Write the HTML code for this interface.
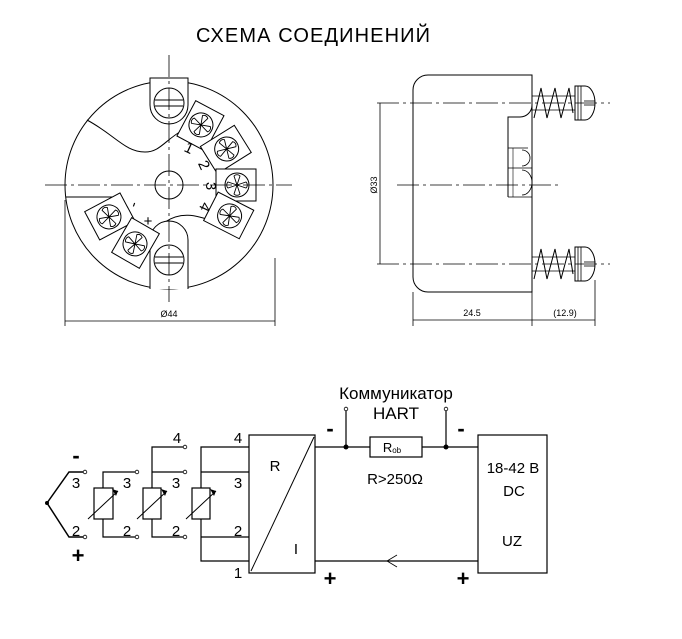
<!DOCTYPE html>
<html><head><meta charset="utf-8"><style>
html,body{margin:0;padding:0;background:#fff;}
svg{display:block;font-family:"Liberation Sans",sans-serif;}
</style></head><body>
<svg width="682" height="639" viewBox="0 0 682 639" xmlns="http://www.w3.org/2000/svg">
<defs>
<g id="fan">
 <circle r="12" fill="#fff" stroke="#000" stroke-width="1"/>
 <path d="M0,0 L-3,-9 A4,4 0 0 1 3,-9 Z M0,0 L9,-3 A4,4 0 0 1 9,3 Z M0,0 L3,9 A4,4 0 0 1 -3,9 Z M0,0 L-9,3 A4,4 0 0 1 -9,-3 Z" fill="none" stroke="#000" stroke-width="0.9"/>
</g>
<g id="blk">
 <rect x="47" y="-16" width="40" height="32" fill="#fff" stroke="#000" stroke-width="1"/>
 <use href="#fan" x="68" y="0"/>
</g>
<g id="spring">
 <line x1="532" y1="-7" x2="575" y2="-7" stroke="#000" stroke-width="0.8"/>
 <line x1="532" y1="7" x2="575" y2="7" stroke="#000" stroke-width="0.8"/>
 <path d="M534,15 L541,-15 L547,15 L555,-15 L561,15 L569,-15 L573,10" fill="none" stroke="#000" stroke-width="1"/>
 <path d="M575,-17 L585,-17 A10,17 0 0 1 585,17 L575,17 Z" fill="#fff" stroke="#000" stroke-width="1"/>
 <line x1="578" y1="-17" x2="578" y2="17" stroke="#000" stroke-width="0.8"/>
 <line x1="581" y1="-17" x2="581" y2="17" stroke="#000" stroke-width="0.8"/>
 <line x1="584" y1="-2" x2="595" y2="-2" stroke="#000" stroke-width="0.8"/>
 <line x1="584" y1="2" x2="595" y2="2" stroke="#000" stroke-width="0.8"/>
</g>
</defs>

<text x="313" y="42" font-size="20" text-anchor="middle" textLength="234">СХЕМА СОЕДИНЕНИЙ</text>

<!-- front view -->
<g stroke="#000" fill="none" stroke-width="1">
 <circle cx="169" cy="185" r="104"/>
 <path d="M87,120 C115,135 125,152 145,152 C160,152 165,140 183,130 A56,56 0 0 1 214,222 C195,214 180,212 165,222 C150,232 145,240 155,243 A60,60 0 0 1 115,200 L115,197 L66,197"/>
 <path d="M186,134 A52,52 0 0 1 211,219" stroke-width="0.7"/>
 <path d="M150,78 L188,78 L188,105 A19,19 0 0 1 150,105 Z" fill="#fff"/>
 <circle cx="169" cy="103" r="15" fill="#fff"/>
 <line x1="155" y1="100" x2="183" y2="100"/><line x1="155" y1="106" x2="183" y2="106"/>
 <path d="M150,289 L150,240 A19,19 0 0 1 188,240 L188,289" fill="#fff"/>
 <circle cx="169" cy="260" r="15" fill="#fff"/>
 <line x1="155" y1="257" x2="183" y2="257"/><line x1="155" y1="263" x2="183" y2="263"/>
 <circle cx="169" cy="185" r="14"/>
</g>
<g transform="translate(169,185)">
 <use href="#blk" transform="rotate(-62)"/>
 <use href="#blk" transform="rotate(-32)"/>
 <use href="#blk" transform="rotate(0)"/>
 <use href="#blk" transform="rotate(27)"/>
 <use href="#blk" transform="rotate(152)"/>
 <use href="#blk" transform="rotate(120)"/>
</g>
<g stroke="#000" stroke-width="0.8" stroke-dasharray="22,4,3,4">
 <line x1="45" y1="185" x2="292" y2="185"/>
 <line x1="169" y1="55" x2="169" y2="302"/>
</g>
<g font-size="15" fill="#000">
 <text x="189" y="153" transform="rotate(25 189 148)" text-anchor="middle">1</text>
 <text x="204" y="170" transform="rotate(65 204 165)" text-anchor="middle">2</text>
 <text x="211" y="191" transform="rotate(90 211 186)" text-anchor="middle">3</text>
 <text x="205" y="212" transform="rotate(115 205 207)" text-anchor="middle">4</text>
 <text x="135" y="210" transform="rotate(110 135 205)" text-anchor="middle">-</text>
 <text x="148" y="226" text-anchor="middle">+</text>
</g>
<g stroke="#000" stroke-width="0.8">
 <line x1="65" y1="200" x2="65" y2="326"/><line x1="275" y1="258" x2="275" y2="326"/>
 <line x1="65" y1="321" x2="275" y2="321"/>
</g>
<text x="169" y="317" font-size="9" text-anchor="middle">Ø44</text>

<!-- side view -->
<g stroke="#000" fill="none" stroke-width="1">
 <path d="M532,75 L428,75 A15,15 0 0 0 413,90 L413,277 A15,15 0 0 0 428,292 L532,292 Z" fill="#fff"/>
 <path d="M508,197 L508,117 L520,117 A12,12 0 0 0 532,105"/>
 <path d="M508,148 L528,148 M508,168 L532,168 M508,197 L532,197" stroke-width="0.8"/>
 <path d="M522,150 A8,8 0 0 1 522,166 M522,170 A8,10 0 0 1 522,195" stroke-width="0.8"/>
 <line x1="513" y1="148" x2="513" y2="197" stroke-width="0.6"/>
</g>
<use href="#spring" transform="translate(0,103)"/>
<use href="#spring" transform="translate(0,264)"/>
<g stroke="#000" stroke-width="0.8" stroke-dasharray="22,4,3,4">
 <line x1="377" y1="103" x2="610" y2="103"/>
 <line x1="377" y1="264" x2="610" y2="264"/>
 <line x1="397" y1="185" x2="558" y2="185"/>
</g>
<g stroke="#000" stroke-width="0.8">
 <line x1="380" y1="103" x2="380" y2="264"/>
 <line x1="413" y1="292" x2="413" y2="326"/><line x1="532" y1="292" x2="532" y2="326"/><line x1="595" y1="280" x2="595" y2="326"/>
 <line x1="413" y1="320" x2="595" y2="320"/>
</g>
<text x="374" y="185" font-size="9" text-anchor="middle" transform="rotate(-90 374 185)" dy="3">Ø33</text>
<text x="472" y="316" font-size="9" text-anchor="middle">24.5</text>
<text x="565" y="316" font-size="9" text-anchor="middle">(12.9)</text>

<!-- schematic -->
<g stroke="#000" fill="none" stroke-width="1.2">
 <path d="M84,472 L69,472 L47,503 L69,537 L84,537" stroke-width="1.5"/>
 <path d="M136,472 L103,472 L103,537 L136,537"/>
 <rect x="94" y="488" width="19" height="31" fill="#fff"/>
 <path d="M184,447 L152,447 L152,537 L184,537 M152,472 L184,472"/>
 <rect x="143" y="488" width="18" height="31" fill="#fff"/>
 <path d="M249,447 L201,447 L201,561 L249,561 M201,472 L249,472 M201,537 L249,537"/>
 <rect x="192" y="488" width="18" height="31" fill="#fff"/>
 <path d="M88,519 L118,491 M137,519 L167,491 M186,519 L216,491" stroke-width="1"/>
 <rect x="249" y="435" width="66" height="138"/>
 <line x1="251" y1="571" x2="314" y2="437" stroke-width="1"/>
 <path d="M315,447 L370,447 M422,447 L478,447"/>
 <rect x="370" y="437" width="52" height="20"/>
 <path d="M346,447 L346,410 M446,447 L446,410"/>
 <rect x="478" y="435" width="69" height="138"/>
 <path d="M315,561 L478,561"/>
 <path d="M397,555 L387,561 L397,567" stroke-width="0.8"/>
</g>
<g fill="#000">
 <path d="M112,489 L118,491 L116,496 Z M161,489 L167,491 L165,496 Z M210,489 L216,491 L214,496 Z"/>
 <circle cx="47" cy="503" r="2"/>
 <circle cx="346" cy="447" r="2.5"/><circle cx="446" cy="447" r="2.5"/>
</g>
<g fill="#fff" stroke="#000" stroke-width="0.8">
 <circle cx="85" cy="472" r="1.8"/><circle cx="85" cy="537" r="1.8"/>
 <circle cx="137" cy="472" r="1.8"/><circle cx="137" cy="537" r="1.8"/>
 <circle cx="185" cy="447" r="1.8"/><circle cx="185" cy="472" r="1.8"/><circle cx="185" cy="537" r="1.8"/>
 <circle cx="346" cy="409" r="1.8"/><circle cx="446" cy="409" r="1.8"/>
</g>
<g font-size="15" fill="#000" text-anchor="middle">
 <text x="76" y="488">3</text><text x="76" y="536">2</text>
 <text x="127" y="488">3</text><text x="127" y="536">2</text>
 <text x="176" y="488">3</text><text x="176" y="536">2</text><text x="177" y="443">4</text>
 <text x="238" y="443">4</text><text x="238" y="488">3</text><text x="238" y="536">2</text><text x="238" y="578">1</text>
 <text x="275" y="471">R</text><text x="296" y="554">I</text>
 <text x="395" y="484">R&gt;250Ω</text>
 <text x="513" y="473">18-42 В</text><text x="514" y="496">DC</text><text x="512" y="546">UZ</text>
</g>
<text x="396" y="399" font-size="17" text-anchor="middle">Коммуникатор</text>
<text x="396" y="419" font-size="17" text-anchor="middle">HART</text>
<text x="392" y="452" font-size="13" text-anchor="middle">R<tspan font-size="8" dy="1">ob</tspan></text>
<g font-size="22" font-weight="bold" fill="#000" text-anchor="middle">
 <text x="76" y="463">-</text><text x="78" y="563">+</text>
 <text x="330" y="436">-</text><text x="461" y="436">-</text>
 <text x="330" y="586">+</text><text x="463" y="586">+</text>
</g>
</svg>
</body></html>
